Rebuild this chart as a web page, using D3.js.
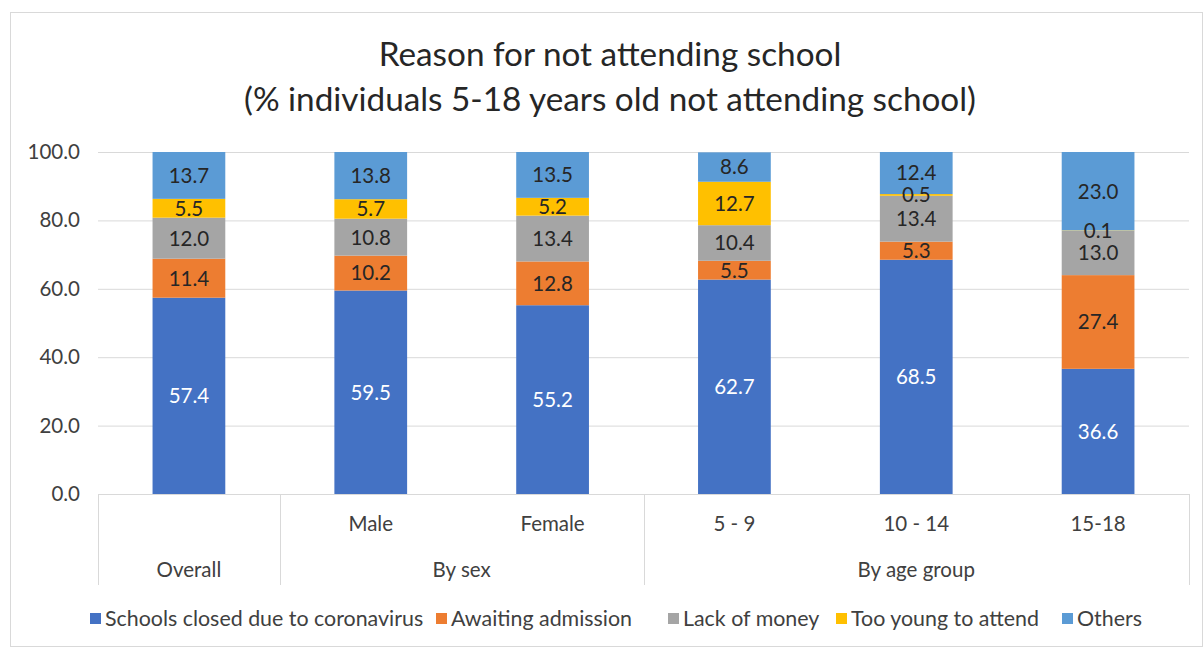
<!DOCTYPE html>
<html>
<head>
<meta charset="utf-8">
<script src="https://cdn.jsdelivr.net/npm/d3@7"></script>
<style>
  html, body { margin: 0; padding: 0; background: #fff; }
  svg { display: block; font-family: Lato, "Open Sans", sans-serif; }
</style>
</head>
<body>
<svg id="chart" width="1204" height="648"></svg>
<script>
const categories = ["Overall", "Male", "Female", "5 - 9", "10 - 14", "15-18"];
const subLabels = ["", "Male", "Female", "5 - 9", "10 - 14", "15-18"];
const groups = [
  { name: "Overall", from: 0, to: 0 },
  { name: "By sex", from: 1, to: 2 },
  { name: "By age group", from: 3, to: 5 }
];
const seriesNames = ["Schools closed due to coronavirus", "Awaiting admission", "Lack of money", "Too young to attend", "Others"];
const closedSchools = [57.4, 59.5, 55.2, 62.7, 68.5, 36.6];
const awaitingAdmission = [11.4, 10.2, 12.8, 5.5, 5.3, 27.4];
const lackOfMoney = [12.0, 10.8, 13.4, 10.4, 13.4, 13.0];
const tooYoung = [5.5, 5.7, 5.2, 12.7, 0.5, 0.1];
const others = [13.7, 13.8, 13.5, 8.6, 12.4, 23.0];
const yTicks = [0, 20, 40, 60, 80, 100];
const colors = ["#4472C4", "#ED7D31", "#A5A5A5", "#FFC000", "#5B9BD5"];
const seriesValues = [closedSchools, awaitingAdmission, lackOfMoney, tooYoung, others];

const svg = d3.select("#chart");
const m = { left: 98, right: 1189, top: 152, bottom: 494 };

// outer border
svg.append("rect").attr("x", 10.5).attr("y", 12.5).attr("width", 1192).attr("height", 634)
  .attr("fill", "#fff").attr("stroke", "#D9D9D9");

// title
const title = svg.append("text").attr("text-anchor", "middle").attr("fill", "#262626")
  .attr("font-size", 33.3);
title.append("tspan").attr("x", 610).attr("y", 66).text("Reason for not attending school");
title.append("tspan").attr("x", 610).attr("y", 111).text("(% individuals 5-18 years old not attending school)");

const x = d3.scaleBand().domain(categories).range([m.left, m.right]).paddingInner(0.6).paddingOuter(0.3);
const y = d3.scaleLinear().domain([0, 100]).range([m.bottom, m.top]);

// gridlines
svg.append("g").selectAll("line").data(yTicks.filter(t => t > 0)).join("line")
  .attr("x1", m.left).attr("x2", m.right)
  .attr("y1", d => y(d) + 0.5).attr("y2", d => y(d) + 0.5)
  .attr("stroke", "#D9D9D9").attr("stroke-width", 1);

// y axis labels via d3 axis
const yAxis = svg.append("g").attr("transform", `translate(${m.left - 16},0)`)
  .call(d3.axisLeft(y).tickValues(yTicks).tickFormat(d3.format(".1f")).tickSize(0).tickPadding(2));
yAxis.select(".domain").remove();
yAxis.selectAll("text").attr("font-size", 20.5).attr("fill", "#404040")
  .attr("font-family", "Lato, 'Open Sans', sans-serif");

// stack
const tableRows = categories.map((c, i) => {
  const r = { cat: c };
  seriesNames.forEach((s, k) => r[s] = seriesValues[k][i]);
  return r;
});
const stacked = d3.stack().keys(seriesNames)(tableRows);

svg.append("defs").append("clipPath").attr("id", "plotclip")
  .append("rect").attr("x", m.left).attr("y", m.top).attr("width", m.right - m.left).attr("height", m.bottom - m.top);

const barsG = svg.append("g").attr("clip-path", "url(#plotclip)");
stacked.forEach((layer, k) => {
  barsG.append("g").attr("fill", colors[k]).selectAll("rect").data(layer).join("rect")
    .attr("x", d => x(d.data.cat))
    .attr("width", x.bandwidth())
    .attr("y", d => y(Math.min(d[1], 100)))
    .attr("height", d => y(d[0]) - y(Math.min(d[1], 100)));
});

// labels
const labelsG = svg.append("g").attr("text-anchor", "middle").attr("font-size", 20.5);
stacked.forEach((layer, k) => {
  labelsG.append("g").selectAll("text").data(layer).join("text")
    .attr("x", d => x(d.data.cat) + x.bandwidth() / 2)
    .attr("y", d => (y(d[0]) + y(Math.min(d[1], 100))) / 2)
    .attr("dy", "0.36em")
    .attr("fill", k === 0 ? "#FFFFFF" : "#262626")
    .text(d => d3.format(".1f")(d.data[seriesNames[k]]));
});

// category axis
const axG = svg.append("g").attr("stroke", "#D9D9D9").attr("stroke-width", 1);
axG.append("line").attr("x1", m.left).attr("x2", m.right).attr("y1", m.bottom + 0.5).attr("y2", m.bottom + 0.5);
const step = x.step();
const bandStart = i => x(categories[i]) - x.paddingInner() * step / 2;
const sepX = [m.left, bandStart(1), bandStart(3), m.right];
axG.selectAll("line.sep").data(sepX).join("line").attr("class", "sep")
  .attr("x1", d => Math.round(d) + 0.5).attr("x2", d => Math.round(d) + 0.5)
  .attr("y1", m.bottom).attr("y2", 585);

svg.append("g").attr("text-anchor", "middle").attr("font-size", 20.5).attr("fill", "#404040")
  .selectAll("text").data(subLabels).join("text")
  .attr("x", (d, i) => x(categories[i]) + x.bandwidth() / 2)
  .attr("y", 531).text(d => d);

svg.append("g").attr("text-anchor", "middle").attr("font-size", 20.5).attr("fill", "#404040")
  .selectAll("text").data(groups).join("text")
  .attr("x", g => (bandStart(g.from) + (g.to === categories.length - 1 ? m.right : bandStart(g.to + 1))) / 2)
  .attr("y", 577).text(g => g.name);

// legend
const legendX = [90, 436, 668, 836, 1062];
const lg = svg.append("g").attr("font-size", 21.4).attr("fill", "#404040");
seriesNames.forEach((s, k) => {
  lg.append("rect").attr("x", legendX[k]).attr("y", 613).attr("width", 11).attr("height", 11).attr("fill", colors[k]);
  lg.append("text").attr("x", legendX[k] + 15).attr("y", 626).text(s);
});
</script>
</body>
</html>
